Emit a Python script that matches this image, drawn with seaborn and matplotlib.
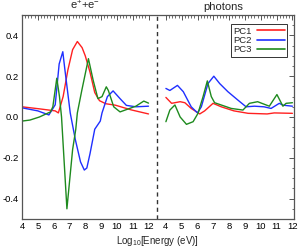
import numpy as np
import pandas as pd
import matplotlib
matplotlib.use("Agg")
import matplotlib.pyplot as plt
import matplotlib.transforms as mtransforms
from matplotlib.ticker import MultipleLocator, FixedLocator
import seaborn as sns

# left panel: e+ + e-
ee_x_pc1 = [4.0, 5.1, 6.1, 6.3, 6.6, 6.9, 7.2, 7.5, 7.8, 8.0, 8.3, 8.6, 8.9, 9.3, 9.9, 10.9, 12.0]
ee_y_pc1 = [0.05, 0.04, 0.03, 0.02, 0.10, 0.23, 0.33, 0.37, 0.34, 0.30, 0.22, 0.12, 0.08, 0.065, 0.058, 0.035, 0.015]
ee_x_pc2 = [4.0, 5.0, 5.7, 6.1, 6.35, 6.58, 6.7, 7.05, 7.37, 7.7, 7.94, 8.1, 8.3, 8.6, 8.95, 9.06, 9.4, 9.76, 10.2, 10.6, 11.2, 12.0]
ee_y_pc2 = [0.045, 0.03, 0.01, 0.06, 0.26, 0.32, 0.24, 0.02, -0.11, -0.22, -0.26, -0.25, -0.18, -0.06, -0.02, 0.02, 0.10, 0.128, 0.09, 0.057, 0.05, 0.053]
ee_x_pc3 = [4.0, 4.5, 5.1, 5.8, 5.95, 6.2, 6.37, 6.5, 6.84, 7.2, 7.4, 7.5, 7.78, 8.2, 8.5, 8.8, 9.06, 9.33, 9.46, 9.8, 10.2, 11.2, 11.7, 12.0]
ee_y_pc3 = [-0.02, -0.015, 0.0, 0.025, 0.05, 0.19, 0.10, 0.0, -0.45, -0.16, -0.06, 0.02, 0.13, 0.286, 0.18, 0.09, 0.10, 0.148, 0.13, 0.05, 0.025, 0.053, 0.078, 0.068]

# right panel: photons
ph_x_pc1 = [4.0, 4.36, 4.9, 5.2, 5.6, 6.14, 6.45, 6.98, 7.5, 8.3, 9.2, 10.4, 10.85, 12.0]
ph_y_pc1 = [0.096, 0.067, 0.075, 0.07, 0.042, 0.015, 0.03, 0.067, 0.05, 0.03, 0.018, 0.015, 0.02, 0.018]
ph_x_pc2 = [4.0, 4.25, 4.73, 5.1, 5.6, 6.0, 6.24, 6.66, 7.03, 7.4, 7.92, 8.55, 9.07, 9.6, 10.2, 10.65, 11.17, 11.4, 12.0]
ph_y_pc2 = [0.14, 0.13, 0.155, 0.124, 0.05, 0.02, 0.05, 0.164, 0.20, 0.164, 0.124, 0.083, 0.05, 0.053, 0.05, 0.042, 0.067, 0.058, 0.053]
ph_x_pc3 = [4.0, 4.25, 4.57, 4.9, 5.3, 5.72, 6.03, 6.35, 6.62, 6.87, 7.08, 8.13, 8.87, 9.28, 9.8, 10.54, 11.02, 11.4, 11.6, 12.0]
ph_y_pc3 = [-0.023, 0.034, 0.059, 0.0, -0.036, -0.023, 0.018, 0.10, 0.177, 0.10, 0.07, 0.042, 0.034, 0.067, 0.075, 0.053, 0.11, 0.053, 0.067, 0.07]

energy_ticks = [4, 5, 6, 7, 8, 9, 10, 11, 12]
OFFSET = 9.1      # shift of the photon panel along the shared axis
SPLIT = 12.54     # dashed divider

frames = []
for panel, shift, series in [
    ("ee", 0.0, [("PC1", ee_x_pc1, ee_y_pc1), ("PC2", ee_x_pc2, ee_y_pc2), ("PC3", ee_x_pc3, ee_y_pc3)]),
    ("ph", OFFSET, [("PC1", ph_x_pc1, ph_y_pc1), ("PC2", ph_x_pc2, ph_y_pc2), ("PC3", ph_x_pc3, ph_y_pc3)]),
]:
    for pc, xs, ys in series:
        frames.append(pd.DataFrame({"panel": panel, "pc": pc,
                                    "u": np.asarray(xs) + shift, "val": ys}))
df = pd.concat(frames, ignore_index=True)

sns.set_theme(style="white")
plt.rcParams["font.family"] = ["Liberation Sans", "DejaVu Sans"]
plt.rcParams["mathtext.fontset"] = "custom"
plt.rcParams["mathtext.rm"] = "Liberation Sans"
plt.rcParams["mathtext.it"] = "Liberation Sans:italic"

fig = plt.figure(figsize=(3.0, 2.48), dpi=100)
ax = fig.add_axes([22 / 300, 29 / 248, 272 / 300, 204 / 248])

palette = {"PC1": "#ff2020", "PC2": "#1f2fff", "PC3": "#1e8a1e"}
for panel in ["ee", "ph"]:
    sub = df[df["panel"] == panel]
    sns.lineplot(data=sub, x="u", y="val", hue="pc", palette=palette,
                 estimator=None, sort=False, linewidth=1.0, ax=ax,
                 legend=(panel == "ph"))

ax.axvline(SPLIT, color="#333333", lw=1.0, ls=(0, (3, 2.5)))

ax.set_xlim(4, 21.2)
ax.set_ylim(-0.5, 0.5)

major_u = energy_ticks + [t + OFFSET for t in energy_ticks]
ax.xaxis.set_major_locator(FixedLocator(major_u))
ax.set_xticklabels([str(t) for t in energy_ticks] * 2)
minor_u = [4 + 0.2 * i for i in range(41)] + [4 + OFFSET + 0.2 * i for i in range(41)]
ax.xaxis.set_minor_locator(FixedLocator(minor_u))
ax.yaxis.set_major_locator(MultipleLocator(0.2))
ax.yaxis.set_minor_locator(MultipleLocator(0.05))
ax.yaxis.set_major_formatter(matplotlib.ticker.FormatStrFormatter("%.1f"))

edge = "#555555"
ax.tick_params(which="both", direction="in", top=True, right=True,
               color=edge, labelsize=6.8, pad=2.5, labelcolor="black")
ax.tick_params(which="major", length=3.5, width=0.7)
ax.tick_params(which="minor", length=1.8, width=0.6)
for s in ax.spines.values():
    s.set_color(edge)
    s.set_linewidth(0.9)

ax.set_xlabel(r"Log$_{10}$[Energy (eV)]", fontsize=7, labelpad=2)
ax.set_ylabel("")

trans = mtransforms.blended_transform_factory(ax.transData, ax.transAxes)
ax.text(8.0, 1.025, r"e$^{+}$+e$^{-}$", transform=trans, ha="center",
        va="baseline", fontsize=8)
ax.text(16.7, 1.025, "photons", transform=trans, ha="center",
        va="baseline", fontsize=8)

leg = ax.legend(loc="upper right", bbox_to_anchor=(0.975, 0.955),
                markerfirst=False, fontsize=6.8, handlelength=2.9,
                labelspacing=0.05, borderpad=0.25, handletextpad=0.6,
                borderaxespad=0, fancybox=False, frameon=True, title=None)
leg.get_frame().set_edgecolor("black")
leg.get_frame().set_linewidth(0.7)
for line in leg.get_lines():
    line.set_linewidth(1.2)

fig.savefig("out.png", dpi=100)
